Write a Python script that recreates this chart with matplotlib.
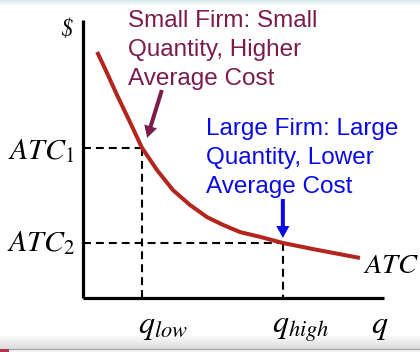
import numpy as np
import matplotlib
matplotlib.use("Agg")
import matplotlib.pyplot as plt
from matplotlib.patches import FancyArrowPatch, Rectangle

plt.rcParams['mathtext.fontset'] = 'stix'

# ---- data (arbitrary units) ----
curve_q = [0.47, 0.80, 1.13, 1.56, 1.96, 2.46, 2.99, 3.55, 4.12, 4.65, 5.22, 5.88, 6.64, 7.64, 9.20]
curve_atc = [8.85, 8.09, 7.30, 6.33, 5.40, 4.60, 3.88, 3.35, 2.91, 2.63, 2.37, 2.20, 1.98, 1.76, 1.44]
q_low, atc_1 = 1.96, 5.40
q_high, atc_2 = 6.64, 1.98
small_lines = ["Small Firm: Small", "Quantity, Higher", "Average Cost"]
large_lines = ["Large Firm: Large", "Quantity, Lower", "Average Cost"]

W, H = 420, 352
fig = plt.figure(figsize=(W / 100, H / 100), dpi=100)

# background decoration (slide frame)
bg = fig.add_axes([0, 0, 1, 1], zorder=-5)
grad = np.ones((H, 1, 3))
top = np.array([0.85, 0.91, 0.92])
for i in range(5):
    t = i / 5
    grad[i, 0] = top * (1 - t) + np.ones(3) * t
for i in range(334, 349):
    t = (i - 334) / 14
    grad[i, 0] = np.ones(3) * (1 - t) + np.array([0.86, 0.86, 0.86]) * t
grad[349, 0] = [0.62, 0.62, 0.62]
grad[350:, 0] = [0.95, 0.95, 0.95]
bg.imshow(grad, aspect='auto', extent=[0, W, H, 0], interpolation='nearest')
bg.add_patch(Rectangle((0, 349), 9, 3, color='#b0344a', lw=0))
bg.set_xlim(0, W)
bg.set_ylim(H, 0)
bg.axis('off')

ax = fig.add_axes([83 / W, (H - 298) / H, 301 / W, 278 / H])
ax.set_xlim(0, 10)
ax.set_ylim(0, 10)
ax.patch.set_alpha(0)
for s in ['top', 'right']:
    ax.spines[s].set_visible(False)
for s in ['left', 'bottom']:
    ax.spines[s].set_linewidth(2.3)
    ax.spines[s].set_color('black')
    ax.spines[s].set_capstyle('butt')
ax.set_xticks([])
ax.set_yticks([])

dash = dict(color='black', lw=1.5, dashes=(3.8, 2.4))
ax.plot([0, q_low], [atc_1, atc_1], **dash)
ax.plot([q_low, q_low], [atc_1, 0], **dash)
ax.plot([0, q_high], [atc_2, atc_2], **dash)
ax.plot([q_high, q_high], [atc_2, 0], **dash)

ax.plot(curve_q, curve_atc, color='#b3261e', lw=2.9, solid_capstyle='butt',
        solid_joinstyle='round', zorder=3)

maroon = '#7a1d4c'
blue = '#0a0ae6'
small_base = [9.75, 8.69, 7.66]
large_base = [5.86, 4.82, 3.78]
for txt, yb in zip(small_lines, small_base):
    ax.text(1.49, yb, txt, color=maroon, fontsize=17.5, family='Liberation Sans',
            ha='left', va='baseline', clip_on=False)
for txt, yb in zip(large_lines, large_base):
    ax.text(4.09, yb, txt, color=blue, fontsize=17.5, family='Liberation Sans',
            ha='left', va='baseline', clip_on=False)

style = "simple,head_length=0.86,head_width=0.95,tail_width=0.29"
ax.add_patch(FancyArrowPatch((2.62, 7.48), (2.13, 5.76), arrowstyle=style,
                             mutation_scale=10, color=maroon, lw=0,
                             shrinkA=0, shrinkB=0, zorder=4))
ax.add_patch(FancyArrowPatch((q_high, 3.56), (q_high, 2.16), arrowstyle=style,
                             mutation_scale=10, color=blue, lw=0,
                             shrinkA=0, shrinkB=0, zorder=4))

lab = dict(fontsize=21.5, color='black', clip_on=False)
ax.text(-0.27, 5.0, r'$ATC_1$', ha='right', va='baseline', **lab)
ax.text(-0.27, 1.69, r'$ATC_2$', ha='right', va='baseline', **lab)
ax.text(9.30, 0.90, r'$ATC$', ha='left', va='baseline', fontsize=20.5,
        color='black', clip_on=False)
qlab = dict(fontsize=23, color='black', clip_on=False)
ax.text(2.64, -1.26, r'$q_{low}$', ha='center', va='baseline', **qlab)
ax.text(7.24, -1.26, r'$q_{high}$', ha='center', va='baseline', **qlab)
ax.text(9.87, -1.26, r'$q$', ha='center', va='baseline', **qlab)
ax.text(-0.56, 9.64, '$', ha='center', va='center', fontsize=17,
        family='STIXGeneral', style='italic', color='black', clip_on=False)

fig.savefig('out.png', dpi=100)
